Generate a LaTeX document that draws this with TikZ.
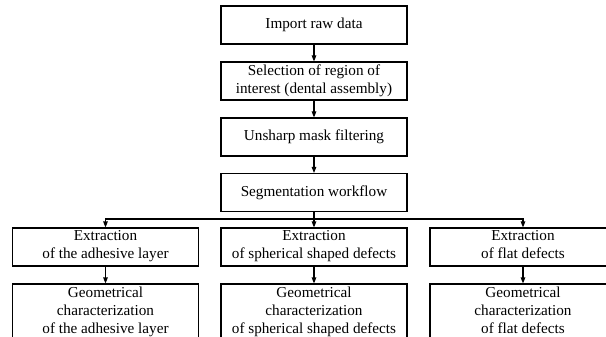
\documentclass[tikz,border=0pt]{standalone}
\usepackage{fontspec}
\setmainfont{Liberation Serif}
\usetikzlibrary{arrows.meta}

\begin{document}
\begin{tikzpicture}[x=1pt,y=-1pt,
    stepbox/.style={draw, line width=1.1pt, rectangle, minimum width=186pt,
        minimum height=38pt, align=center, inner sep=2pt,
        font=\fontsize{15.2}{18.2}\selectfont},
    arr/.style={line width=1.1pt, -{Triangle[length=6pt,width=4.5pt]}}]
    \useasboundingbox (0,0) rectangle (606,337);

    % main chain
    \node[stepbox] (import) at (314,25) {Import raw data};
    \node[stepbox] (roi) at (314,81) {Selection of region of\\interest (dental assembly)};
    \node[stepbox] (unsharp) at (314,137) {Unsharp mask filtering};
    \node[stepbox] (seg) at (314,192.5) {Segmentation workflow};
    \draw[arr] (import) -- (roi);
    \draw[arr] (roi) -- (unsharp);
    \draw[arr] (unsharp) -- (seg);

    % three branches
    \coordinate (split) at (314,219);
    \draw[line width=1.1pt] (seg.south) -- (split);
    \foreach \n/\x/\what in {adh/105.5/the adhesive layer,
                             sph/314/spherical shaped defects,
                             flat/523/flat defects} {
        \node[stepbox] (ext\n) at (\x,247) {Extraction\\of \what\strut};
        \node[stepbox, minimum height=58pt] (geo\n) at (\x,313)
            {Geometrical\\characterization\\of \what\strut};
        \draw[arr] (split) -| (ext\n.north);
        \draw[arr] (ext\n) -- (geo\n);
    }
\end{tikzpicture}
\end{document}
